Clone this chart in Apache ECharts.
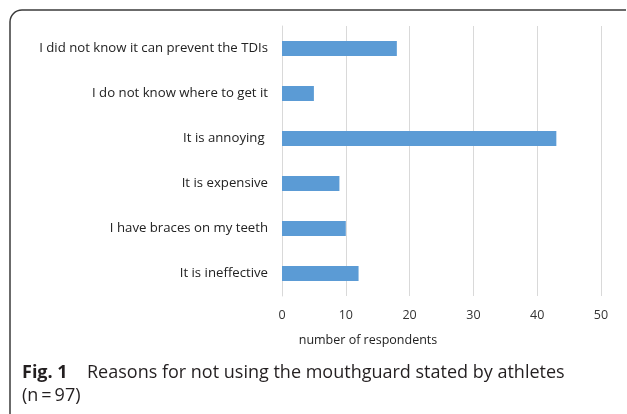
<!DOCTYPE html>
<html>
<head>
<meta charset="utf-8">
<script src="https://cdn.jsdelivr.net/npm/echarts@6/dist/echarts.min.js"></script>
<style>
html,body{margin:0;padding:0;background:#fff;}
#chart{width:627px;height:414px;}
</style>
</head>
<body>
<div id="chart"></div>
<script>
const categories = [
  'I did not know it can prevent the TDIs',
  'I do not know where to get it',
  'It is annoying ',
  'It is expensive',
  'I have braces on my teeth',
  'It is ineffective'
];
const values = [18, 5, 43, 9, 10, 12];
const xTicks = { min: 0, max: 50, interval: 10 };
const axisTitle = 'number of respondents';
const captionBold = 'Fig. 1';
const captionLine1 = 'Reasons for not using the mouthguard stated by athletes';
const captionLine2 = '(n\u2009=\u200997)';

const chart = echarts.init(document.getElementById('chart'), null, {renderer: 'canvas'});
const font = '"Open Sans", sans-serif';
const borderStyle = { stroke: '#3a3a3a', lineWidth: 1.5, fill: null };
chart.setOption({
  animation: false,
  grid: { left: 282, right: 26, top: 26, bottom: 118, containLabel: false },
  xAxis: {
    type: 'value', min: xTicks.min, max: xTicks.max, interval: xTicks.interval,
    axisLine: { show: false }, axisTick: { show: false },
    splitLine: { show: true, lineStyle: { color: '#d9d9d9', width: 1 } },
    axisLabel: { color: '#333', fontSize: 12.5, fontFamily: font, margin: 13 }
  },
  yAxis: {
    type: 'category', data: categories, inverse: true,
    axisLine: { show: true, lineStyle: { color: '#d9d9d9', width: 1 } },
    axisTick: { show: false },
    axisLabel: { color: '#222', fontSize: 13.2, fontFamily: font, margin: 14 }
  },
  series: [{
    type: 'bar', data: values, barWidth: 15,
    itemStyle: { color: '#5b9bd5' }
  }],
  graphic: [
    { type: 'line', shape: { x1: 10, y1: 22, x2: 10, y2: 414 }, style: borderStyle },
    { type: 'line', shape: { x1: 22, y1: 10, x2: 626, y2: 10 }, style: borderStyle },
    { type: 'arc', shape: { cx: 22, cy: 22, r: 12, startAngle: Math.PI, endAngle: Math.PI * 1.5, clockwise: true }, style: borderStyle },
    { type: 'text', x: 368, y: 340, style: { text: axisTitle, fill: '#222', font: '12.5px ' + font, textAlign: 'center', textVerticalAlign: 'middle' } },
    { type: 'text', x: 22, y: 373, style: { text: captionBold, fill: '#231f20', font: 'bold 18px ' + font, textVerticalAlign: 'middle' } },
    { type: 'text', x: 87, y: 373, style: { text: captionLine1, fill: '#231f20', font: '18px ' + font, textVerticalAlign: 'middle' } },
    { type: 'text', x: 22, y: 396, style: { text: captionLine2, fill: '#231f20', font: '18px ' + font, textVerticalAlign: 'middle' } }
  ]
});
</script>
</body>
</html>
